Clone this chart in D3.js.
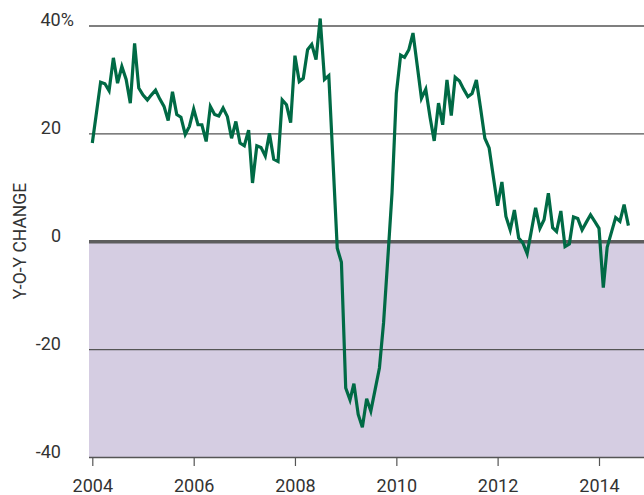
<!DOCTYPE html>
<html lang="en">
<head>
  <meta charset="utf-8" />
  <title>Y-O-Y change</title>
  <script src="https://cdn.jsdelivr.net/npm/d3@7"></script>
  <style>
    body { margin: 0; background: #fff; }
    text { font-family: Roboto, "Noto Sans", sans-serif; fill: #333; }
  </style>
</head>
<body>
<script>

// monthly y-o-y change, Jan 2004 onwards
var values = [
  18.2, 24.0, 29.5, 29.2, 27.9, 34.0, 29.3, 32.4, 30.0, 25.6, 36.7, 28.4,
  27.1, 26.2, 27.1, 28.0, 26.4, 25.0, 22.4, 27.7, 23.5, 23.0, 19.8, 21.3,
  24.5, 21.6, 21.6, 18.5, 25.0, 23.5, 23.2, 24.7, 23.1, 19.1, 22.2, 18.2,
  17.7, 20.6, 10.8, 17.7, 17.4, 15.8, 20.0, 15.2, 14.8, 26.2, 25.3, 22.0,
  34.4, 29.6, 30.2, 35.5, 36.5, 33.7, 41.3, 30.0, 30.7, 15.0, -1.3, -3.9,
  -27.2, -29.4, -26.4, -32.1, -34.5, -29.2, -31.5, -27.5, -23.5, -15.1, -3.0, 9.0,
  27.4, 34.5, 34.1, 35.5, 38.6, 32.5, 26.5, 28.2, 23.0, 18.6, 25.6, 21.6,
  29.9, 23.3, 30.4, 29.7, 28.2, 26.8, 27.4, 29.9, 24.5, 19.1, 17.3, 12.0,
  6.6, 11.0, 4.6, 2.1, 5.8, 0.6, -0.3, -2.3, 2.0, 6.2, 2.4, 4.0,
  8.9, 2.5, 1.8, 5.6, -1.0, -0.5, 4.5, 4.2, 2.1, 3.5, 4.9, 3.7,
  2.4, -8.6, -1.1, 1.7, 4.4, 3.7, 6.8, 2.9
];
var startDate = new Date(2004, 0, 1);
var dates = d3.timeMonth.range(startDate, d3.timeMonth.offset(startDate, values.length));
var yTicks = [-40, -20, 0, 20, 40];
var xTicks = [2004, 2006, 2008, 2010, 2012, 2014].map(function(yr) { return new Date(yr, 0, 1); });
var yTitle = "Y-O-Y CHANGE";

var data = dates.map(function(d, i) { return {date: d, value: values[i]}; });

var w = 644, h = 495;
var pad = {left: 89, right: 644, top: 25.5, bottom: 457};

var x = d3.scaleTime()
          .domain([new Date(2004, 0, 1), new Date(2014, 0, 1)])
          .range([92.3, 599]);
var y = d3.scaleLinear()
          .domain([-40, 40])
          .range([pad.bottom, pad.top]);

var svg = d3.select("body").append("svg")
            .attr("width", w)
            .attr("height", h);

// negative zone
svg.append("rect")
   .attr("x", pad.left)
   .attr("y", y(0))
   .attr("width", pad.right - pad.left)
   .attr("height", y(-40) - y(0))
   .attr("fill", "#d5cde2");

// y axis with gridlines
var yAxis = d3.axisLeft(y)
              .tickValues(yTicks)
              .tickSize(-(pad.right - pad.left))
              .tickPadding(28)
              .tickFormat(function(d) { return d; });
var gy = svg.append("g")
            .attr("transform", "translate(" + pad.left + ",0)")
            .call(yAxis);
gy.select(".domain").remove();
gy.selectAll(".tick line")
  .attr("stroke-width", function(d) { return d === 0 ? 3.5 : 1.3; })
  .attr("stroke", function(d) { return d === 0 ? "#5d5d5d" : "#555"; });
gy.selectAll(".tick text")
  .attr("dy", "0")
  .style("font-size", "18px")
  .attr("fill", "#333");
// the % hangs past the number column
gy.selectAll(".tick text").filter(function(d) { return d === 40; })
  .append("tspan").text("%");
gy.selectAll(".tick text").filter(function(d) { return d === 40; })
  .attr("text-anchor", "start")
  .attr("x", -28 - 20.5);

// x axis
var xAxis = d3.axisBottom(x)
              .tickValues(xTicks)
              .tickSize(9)
              .tickPadding(13)
              .tickFormat(d3.timeFormat("%Y"));
var gx = svg.append("g")
            .attr("transform", "translate(0," + pad.bottom + ")")
            .call(xAxis);
gx.select(".domain").remove();
gx.selectAll(".tick line").attr("stroke", "#555").attr("stroke-width", 1.2);
gx.selectAll(".tick text").style("font-size", "18px").attr("fill", "#333");

// axis title
svg.append("text")
   .attr("transform", "translate(26,241) rotate(-90)")
   .attr("text-anchor", "middle")
   .style("font-size", "17.5px")
   .text(yTitle);

// series
var line = d3.line()
             .x(function(d) { return x(d.date); })
             .y(function(d) { return y(d.value); });
svg.append("path")
   .datum(data)
   .attr("d", line)
   .attr("fill", "none")
   .attr("stroke", "#006a45")
   .attr("stroke-width", 3.2);

</script>
</body>
</html>
